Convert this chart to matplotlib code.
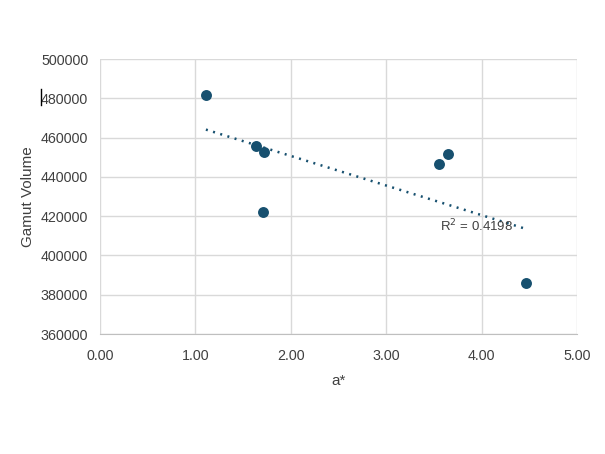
import numpy as np
import matplotlib
matplotlib.use("Agg")
import matplotlib.pyplot as plt

plt.rcParams["font.family"] = ["Liberation Sans", "DejaVu Sans"]

# values
a_star = [1.11, 1.635, 1.716, 1.705, 3.557, 3.648, 4.466]
gamut_volume = [481700, 455900, 452500, 422300, 446700, 451700, 386000]
r2_label = "R$^2$ = 0.4198"
x_ticks = [0, 1, 2, 3, 4, 5]
y_ticks = [360000, 380000, 400000, 420000, 440000, 460000, 480000, 500000]

text_col = "#404040"
dot_col = "#17506f"

fig = plt.figure(figsize=(6.05, 4.54), dpi=100)
ax = fig.add_axes([0.1653, 0.2643, 0.7884, 0.6057])

ax.scatter(a_star, gamut_volume, s=62, color=dot_col, zorder=3, linewidths=0)

# linear trendline
slope, intercept = np.polyfit(a_star, gamut_volume, 1)
xs = np.array([min(a_star), max(a_star)])
ax.plot(xs, slope * xs + intercept, color=dot_col, lw=1.8,
        linestyle=(0, (0.8, 2.2)), zorder=2)
ax.text(3.56, 415200, r2_label, color=text_col, fontsize=9.5, va="center", ha="left")

ax.set_xlim(0, 5)
ax.set_ylim(360000, 500000)
ax.set_xticks(x_ticks)
ax.set_xticklabels([f"{v:.2f}" for v in x_ticks])
ax.set_yticks(y_ticks)
ax.set_yticklabels([str(v) for v in y_ticks])
ax.tick_params(length=0, labelsize=10.3, labelcolor=text_col)
ax.tick_params(axis="y", pad=8.5)
ax.tick_params(axis="x", pad=10.5)

for s in ["top", "right", "left"]:
    ax.spines[s].set_visible(False)
ax.spines["bottom"].set_color("#bfbfbf")
ax.grid(True, color="#d9d9d9", lw=1)
ax.set_axisbelow(True)

ax.set_xlabel("a*", fontsize=11, color=text_col, labelpad=8)
ax.set_ylabel("Gamut Volume", fontsize=11, color=text_col, labelpad=4)

# little cursor mark left of the 480000 label
fig.add_artist(plt.Line2D([40.5 / 605, 40.5 / 605], [1 - 89 / 454, 1 - 105 / 454],
                          color="black", lw=1))

fig.savefig("out.png", dpi=100)
